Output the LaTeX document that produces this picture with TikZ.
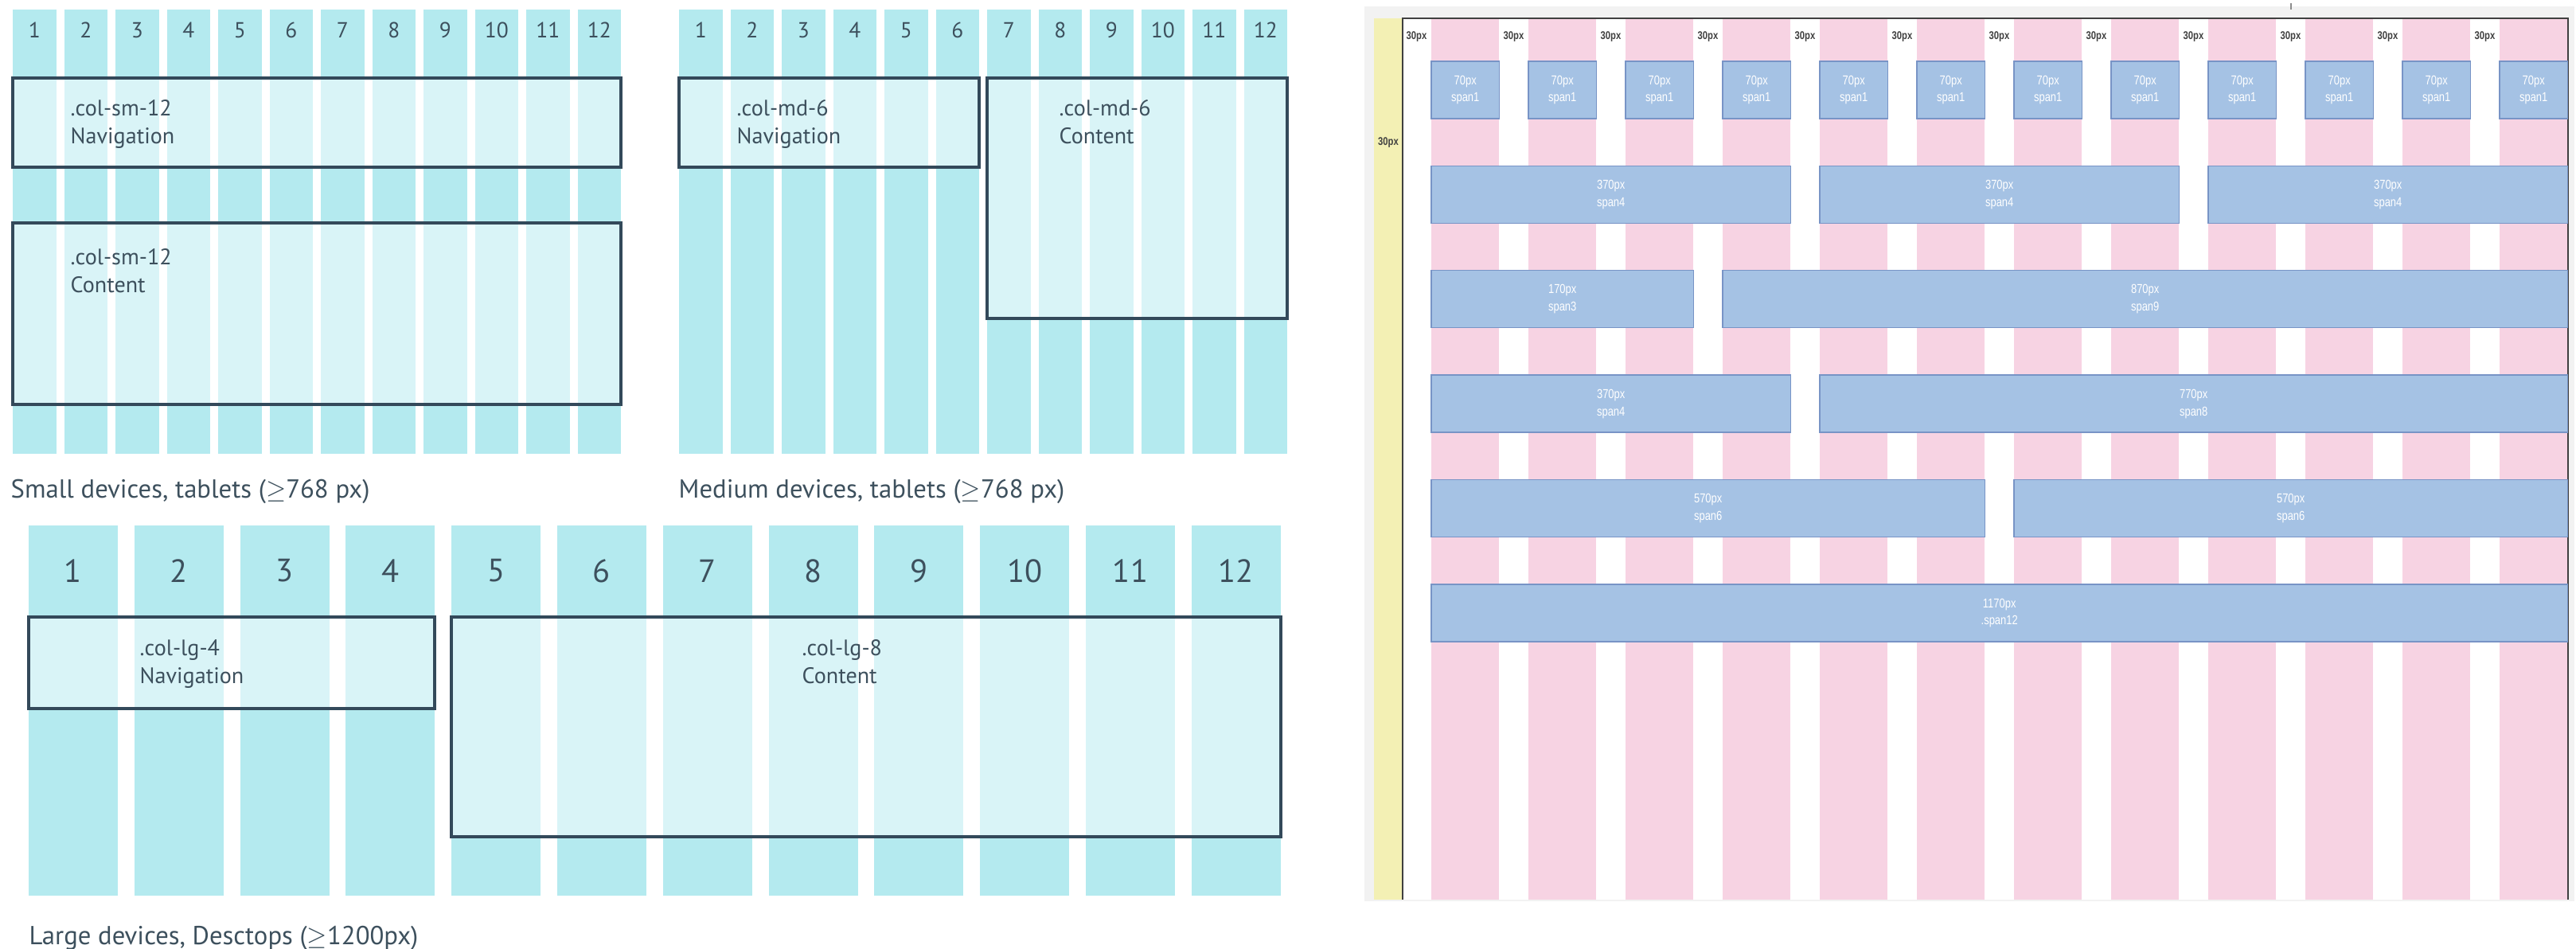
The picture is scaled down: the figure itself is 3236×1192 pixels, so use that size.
\documentclass[tikz,border=0pt]{standalone}
\usepackage{fontspec}
\setmainfont{PT Sans}
\newfontfamily\gridfont[FakeStretch=0.8]{Liberation Sans}

\definecolor{colcyan}{HTML}{B4EAEF}
\definecolor{boxline}{HTML}{33495A}
\definecolor{textgray}{HTML}{3D505D}
\definecolor{colpink}{HTML}{F7D3E3}
\definecolor{spanfill}{HTML}{A5C2E4}
\definecolor{spanline}{HTML}{7894C6}
\definecolor{bandyellow}{HTML}{F3F0B4}
\definecolor{framegray}{HTML}{F2F2F2}

\tikzset{
  colbar/.style={fill=colcyan, draw=none},
  layoutbox/.style={draw=boxline, line width=0.9pt, fill=white, fill opacity=0.5},
  boxlabel/.style={anchor=north west, align=left, inner sep=0pt, text=textgray,
    font=\fontsize{8}{10}\selectfont},
  colnum/.style={text=textgray, inner sep=0pt, font=\fontsize{7.8}{9}\selectfont},
  bignum/.style={text=textgray, inner sep=0pt, font=\fontsize{11.5}{13}\selectfont},
  devcaption/.style={anchor=west, inner sep=0pt, text=textgray, font=\fontsize{9.3}{11}\selectfont},
  pinkcol/.style={fill=colpink, draw=none},
  spanbox/.style={fill=spanfill, draw=spanline, line width=0.4pt},
  spanlabel/.style={align=center, text=white, inner sep=0pt, font=\gridfont\fontsize{4.6}{6.2}\selectfont},
  gutterlabel/.style={text=black!75, inner sep=0pt, font=\gridfont\bfseries\fontsize{4}{5}\selectfont},
}

\begin{document}
\begin{tikzpicture}[x=0.01cm, y=-0.01cm]

            \useasboundingbox (0,0) rectangle (3236,1192);

            % Pantallas pequeñas
            \foreach \i in {1,...,12} {
              \pgfmathsetmacro{\xa}{16+(\i-1)*64.5}
              \fill[colbar] (\xa,12) rectangle ++(54.5,558);
              \node[colnum] (sm\i) at (\xa+27.25,38) {\i};
            }
            \draw[layoutbox] (16,98) rectangle (780,210);
            \node[boxlabel] (smnav) at (88,125) {.col-sm-12\\Navigation};
            \draw[layoutbox] (16,280) rectangle (780,508);
            \node[boxlabel] (smcont) at (88,312) {.col-sm-12\\Content};
            \node[devcaption] (smcap) at (13,617) {Small devices, tablets ($\geq$768 px)};

            % Pantallas medianas
            \foreach \i in {1,...,12} {
              \pgfmathsetmacro{\xa}{853+(\i-1)*64.5}
              \fill[colbar] (\xa,12) rectangle ++(54.5,558);
              \node[colnum] (md\i) at (\xa+27.25,38) {\i};
            }
            \draw[layoutbox] (853,98) rectangle (1230,210);
            \node[boxlabel] (mdnav) at (925,125) {.col-md-6\\Navigation};
            \draw[layoutbox] (1240,98) rectangle (1617,400);
            \node[boxlabel] (mdcont) at (1330,125) {.col-md-6\\Content};
            \node[devcaption] (mdcap) at (852,617) {Medium devices, tablets ($\geq$768 px)};

            % Pantallas grandes
            \foreach \i in {1,...,12} {
              \pgfmathsetmacro{\xa}{36+(\i-1)*132.8}
              \fill[colbar] (\xa,660) rectangle ++(112,465);
              \node[bignum] (lg\i) at (\xa+56,717) {\i};
            }
            \draw[layoutbox] (36,775) rectangle (546,890);
            \node[boxlabel] (lgnav) at (175,803) {.col-lg-4\\Navigation};
            \draw[layoutbox] (567,775) rectangle (1609,1051);
            \node[boxlabel] (lgcont) at (1007,803) {.col-lg-8\\Content};
            \node[devcaption, anchor=base west] (lgcap) at (36,1186) {Large devices, Desctops ($\geq$1200px)};

            % Rejilla de 1170px
            \fill[framegray] (1714,8) rectangle (3234,1132);
            \fill[white] (1762,23) rectangle (3226,1130);
            \fill[bandyellow] (1726,23) rectangle (1762,1130);
            \draw[black!45, line width=0.5pt] (2878,4) -- (2878,12);
            \foreach \i in {0,...,11} {
              \pgfmathsetmacro{\xa}{1798+\i*122}
              \fill[pinkcol] (\xa,23) rectangle ++(85.4,1107);
              \node[gutterlabel] (gut\i) at (\xa-18.5,46) {30px};
            }
            \node[gutterlabel] (margin) at (1744,179) {30px};
            \draw[black!75, line width=0.5pt] (1762,1130) -- (1762,23) -- (3226,23) -- (3226,1130);

            % Fila span1
            \foreach \i in {0,...,11} {
              \pgfmathsetmacro{\xa}{1798+\i*122}
              \draw[spanbox] (\xa,77) rectangle ++(85.4,72);
              \node[spanlabel] (one\i) at (\xa+42.7,113) {70px\\span1};
            }

            % Filas anchas
            \foreach \r/\a/\b/\w/\s in {1/0/3/370px/span4, 1/4/7/370px/span4, 1/8/11/370px/span4,
                2/0/2/170px/span3, 2/3/11/870px/span9, 3/0/3/370px/span4, 3/4/11/770px/span8,
                4/0/5/570px/span6, 4/6/11/570px/span6, 5/0/11/1170px/.span12} {
              \pgfmathsetmacro{\xa}{1798+\a*122}
              \pgfmathsetmacro{\xb}{1798+\b*122+85.4}
              \pgfmathsetmacro{\ya}{77+\r*131.4}
              \draw[spanbox] (\xa,\ya) rectangle (\xb,\ya+72);
              \node[spanlabel] (span\r\a) at ({(\xa+\xb)/2},\ya+36) {\w\\\s};
            }
        \end{tikzpicture}
\end{document}
